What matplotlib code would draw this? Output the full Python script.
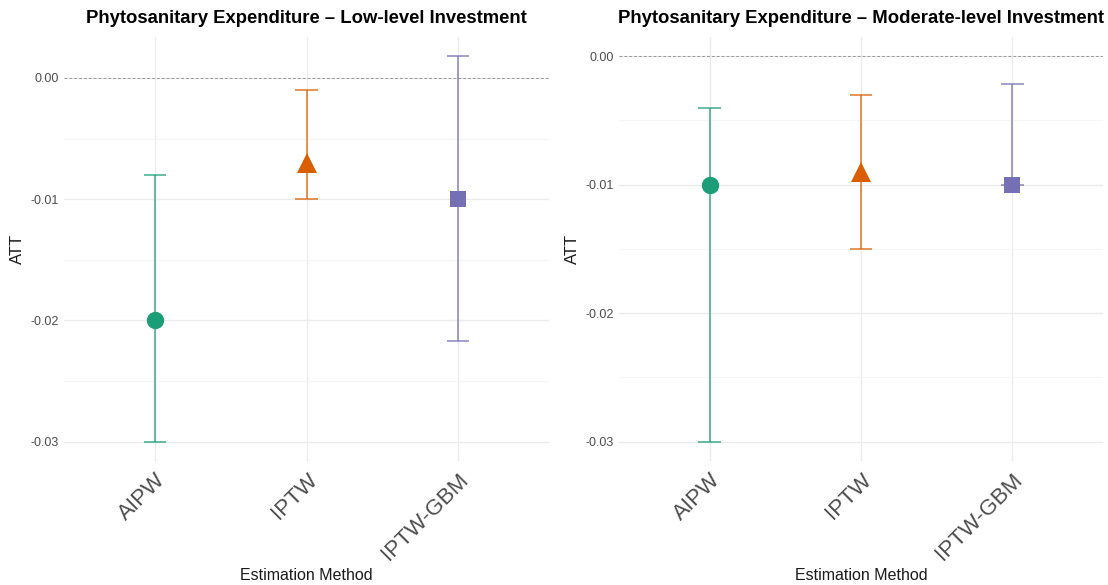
import matplotlib

matplotlib.use("Agg")

import matplotlib.pyplot as plt
from matplotlib.ticker import FixedLocator

plt.rcParams["font.family"] = ["Liberation Sans", "DejaVu Sans"]

methods = ["AIPW", "IPTW", "IPTW-GBM"]
colors = ["#1B9E77", "#D95F02", "#7570B3"]
markers = ["o", "^", "s"]
marker_sizes = [12.5, 14, 12]

low_att = [-0.020, -0.007, -0.010]
low_lo = [-0.030, -0.010, -0.0217]
low_hi = [-0.008, -0.001, 0.0018]

mod_att = [-0.010, -0.009, -0.010]
mod_lo = [-0.030, -0.015, -0.010]
mod_hi = [-0.004, -0.003, -0.0022]

titles = [
    "Phytosanitary Expenditure – Low-level Investment",
    "Phytosanitary Expenditure – Moderate-level Investment",
]

text_dark = "#1A1A1A"
text_muted = "#4D4D4D"
grid_major = "#EBEBEB"
grid_minor = "#F5F5F5"

fig = plt.figure(figsize=(11.08, 5.85), dpi=100)
fig.patch.set_facecolor("white")
axes = [
    fig.add_axes((0.0578, 0.212, 0.4377, 0.725)),
    fig.add_axes((0.5587, 0.212, 0.4368, 0.725)),
]

panels = [(low_att, low_lo, low_hi), (mod_att, mod_lo, mod_hi)]

for ax, (att, lo, hi), title in zip(axes, panels, titles):
    xs = list(range(1, len(methods) + 1))
    ax.axhline(0, color="#9A9A9A", linestyle=(0, (3, 2)), linewidth=0.7, zorder=1)
    for x, a, l, h, c, m, ms in zip(xs, att, lo, hi, colors, markers, marker_sizes):
        ax.vlines(x, l, h, color=c, linewidth=1.1, alpha=0.85, zorder=2)
        ax.hlines([l, h], x - 0.075, x + 0.075, color=c, linewidth=1.1,
                  alpha=0.85, zorder=2)
        ax.plot(x, a, marker=m, markersize=ms, color=c, markeredgewidth=0,
                linestyle="none", zorder=3)

    # ggplot-style 5% expansion, the zero line counts towards the range
    ymin = min(min(lo), 0)
    ymax = max(max(hi), 0)
    pad = (ymax - ymin) * 0.05
    ax.set_ylim(ymin - pad, ymax + pad)
    ax.set_xlim(0.4, len(methods) + 0.6)

    ax.yaxis.set_major_locator(FixedLocator([0.0, -0.01, -0.02, -0.03]))
    ax.set_yticklabels(["0.00", "-0.01", "-0.02", "-0.03"])
    ax.yaxis.set_minor_locator(FixedLocator([-0.005, -0.015, -0.025]))
    ax.set_xticks(xs)
    ax.set_xticklabels(methods, rotation=45, ha="right", va="top",
                       rotation_mode="anchor", fontsize=16, color=text_muted)
    ax.tick_params(axis="y", which="both", length=0, labelsize=9,
                   labelcolor=text_muted, pad=4)
    ax.tick_params(axis="x", length=0, pad=6)

    ax.grid(which="major", color=grid_major, linewidth=1.0)
    ax.grid(which="minor", axis="y", color=grid_minor, linewidth=0.8)
    ax.set_axisbelow(True)
    for side in ax.spines.values():
        side.set_visible(False)

    ax.set_ylabel("ATT", fontsize=12, color=text_dark, labelpad=4)
    ax.set_xlabel("Estimation Method", fontsize=11.5, color=text_dark)
    ax.xaxis.set_label_coords(0.5, -0.253)
    ax.set_title(title, fontsize=13.3, fontweight="bold", color="black",
                 pad=10)

fig.savefig("out.png", dpi=100, facecolor=fig.get_facecolor())
plt.close(fig)
